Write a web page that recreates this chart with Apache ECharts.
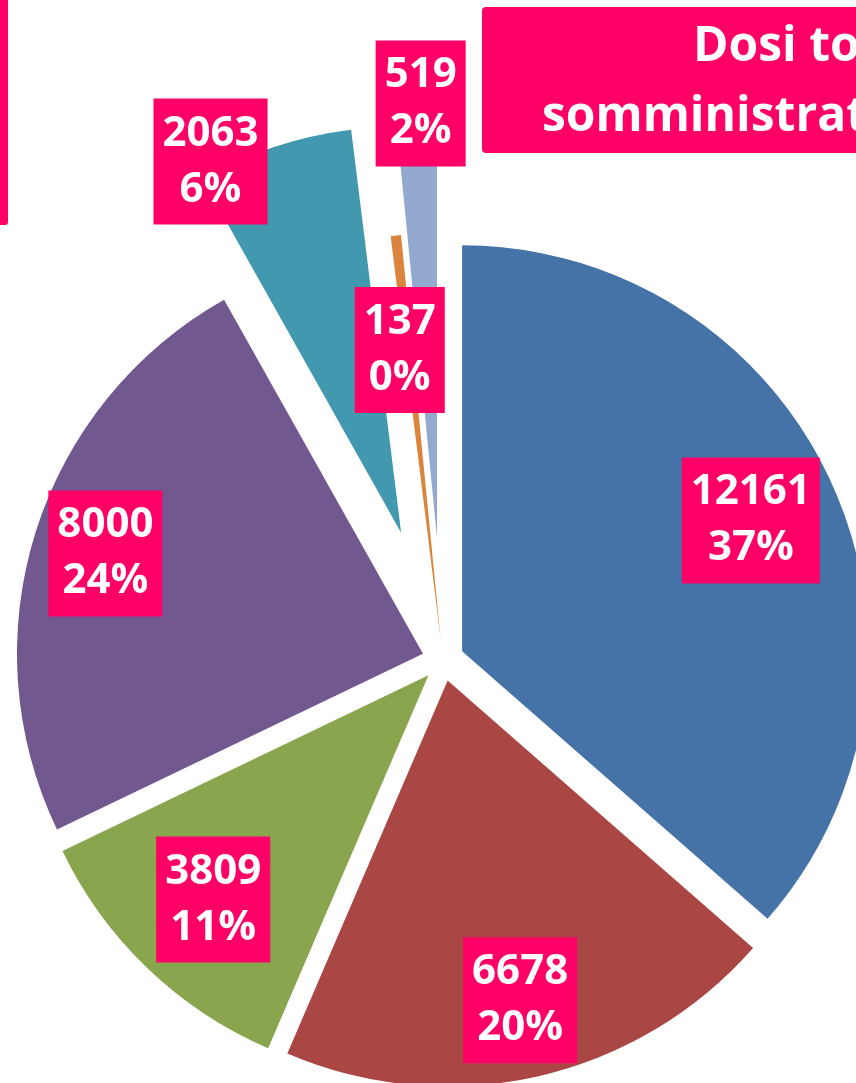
<!DOCTYPE html>
<html>
<head>
<meta charset="utf-8">
<script src="https://cdn.jsdelivr.net/npm/echarts@6/dist/echarts.min.js"></script>
<style>
  html, body { margin: 0; padding: 0; background: #fff; }
  #chart { width: 856px; height: 1083px; }
</style>
</head>
<body>
<div id="chart"></div>
<script>
// slices, clockwise from 12 o'clock
const categories = ["Categoria 1", "Categoria 2", "Categoria 3", "Categoria 4", "Categoria 5", "Categoria 6", "Categoria 7"];
const values = [12161, 6678, 3809, 8000, 2063, 137, 519];

// styling / layout
const colors = ["#4572A7", "#AA4643", "#89A54E", "#71588F", "#4198AF", "#DB843D", "#93A9CF"];
const explode = [21, 21, 21, 21, 134, 21, 122];
const labelDist = [338, 349, 332, 354, 550, 313, 557];
const labelTurn = [0, 0, 0, 0, -6.8, -1.6, 0.5];
const CX = 443, CY = 660, R = 406;
const PINK = "#FF0066";
const LABEL_FONT = "bold 42px 'Open Sans'";

const chart = echarts.init(document.getElementById("chart"));

// one pie per explode distance, the other slices left transparent
const offsets = Array.from(new Set(explode)).sort((a, b) => b - a);

const series = offsets.map((off, si) => ({
  type: "pie",
  z: 2 + si,
  center: [CX, CY],
  radius: [0, R],
  startAngle: 90,
  clockwise: true,
  selectedMode: "multiple",
  selectedOffset: off,
  percentPrecision: 0,
  emphasis: { disabled: true },
  itemStyle: { borderWidth: 0 },
  labelLine: { show: false },
  label: { show: false },
  data: values.map((v, i) => {
    const mine = explode[i] === off;
    return {
      name: categories[i],
      value: v,
      selected: mine,
      itemStyle: { color: colors[i], opacity: mine ? 1 : 0 }
    };
  })
}));

const frame = [
  // cut-off box on the left edge
  { id: "leftbox", type: "rect", left: -20, top: -10, shape: { width: 28, height: 235, r: 3 }, style: { fill: PINK } },
  // title box, cut off on the right
  { id: "titlebox", type: "rect", left: 482, top: 7, shape: { width: 420, height: 146, r: 4 }, style: { fill: PINK } },
  { id: "t1", type: "text", x: 693, y: 47, style: { text: "Dosi totali", fill: "#fff", font: "bold 48px 'Open Sans'", verticalAlign: "middle" } },
  { id: "t2", type: "text", x: 542, y: 117, style: { text: "somministrate", fill: "#fff", font: "bold 48px 'Open Sans'", verticalAlign: "middle" } }
];

chart.setOption({ animation: false, graphic: frame, series: series });

// value / percent boxes, placed along each slice's mid angle from the pie layout
const model = chart.getModel();
const labels = values.map((v, i) => {
  const sm = model.getSeriesByIndex(offsets.indexOf(explode[i]));
  const lay = sm.getData().getItemLayout(i);
  const mid = (lay.startAngle + lay.endAngle) / 2 + labelTurn[i] * Math.PI / 180;
  const p = sm.getDataParams(i);
  return {
    id: "lab" + i,
    type: "text",
    z: 100,
    x: lay.cx + labelDist[i] * Math.cos(mid),
    y: lay.cy + labelDist[i] * Math.sin(mid),
    style: {
      text: p.value + "\n" + p.percent + "%",
      fill: "#fff",
      font: LABEL_FONT,
      lineHeight: 56,
      align: "center",
      verticalAlign: "middle",
      backgroundColor: PINK,
      padding: [5, 9, 9, 9]
    }
  };
});
chart.setOption({ graphic: labels });
</script>
</body>
</html>
